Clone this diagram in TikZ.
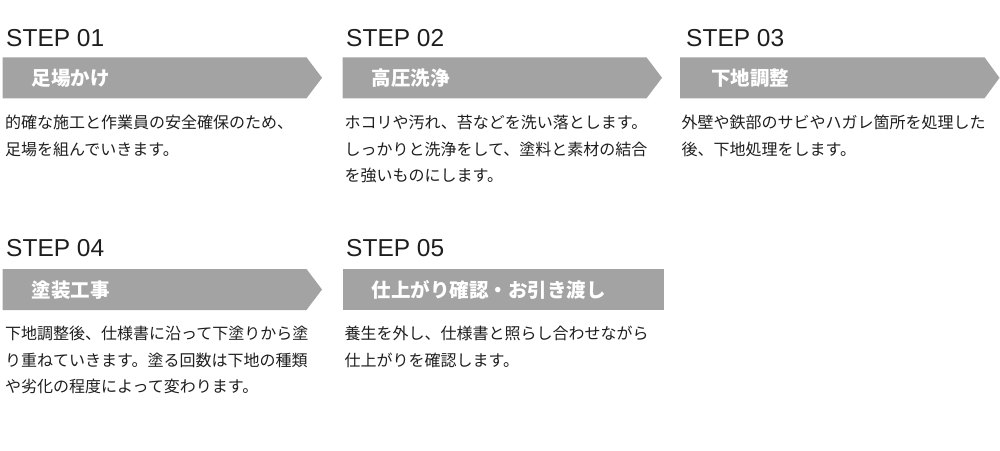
\documentclass[tikz,border=0pt]{standalone}
\usepackage{fontspec}
\setmainfont{Liberation Sans}
\newfontfamily\jp{Noto Sans CJK JP}
\definecolor{bandgray}{RGB}{163,163,163}
\definecolor{txt}{RGB}{30,30,30}
\tikzset{
  band/.style={fill=bandgray, draw=none},
  steptitle/.style={anchor=base west, inner sep=0pt, text=txt, font=\fontsize{24.5}{28}\selectfont},
  bandlabel/.style={anchor=base west, inner sep=0pt, text=white, font=\jp\bfseries\fontsize{19.5}{22}\selectfont},
  bodyline/.style={anchor=base west, inner sep=0pt, text=txt, font=\jp\fontsize{16}{20}\selectfont},
}
\begin{document}
\begin{tikzpicture}[x=1pt,y=-1pt]
\useasboundingbox (0,0) rectangle (1000,450);
% bands
\fill[band] (2.7,57.3) -- (306.5,57.3) -- (322,77.8) -- (306.5,98.3) -- (2.7,98.3) -- cycle;
\fill[band] (342.7,57.3) -- (646.5,57.3) -- (662,77.8) -- (646.5,98.3) -- (342.7,98.3) -- cycle;
\fill[band] (680,57.3) -- (984.5,57.3) -- (999.5,77.8) -- (984.5,98.3) -- (680,98.3) -- cycle;
\fill[band] (2.7,269) -- (306.5,269) -- (322,289.5) -- (306.5,310) -- (2.7,310) -- cycle;
\fill[band] (342.7,269) rectangle (664.3,310);
% step titles
\node[steptitle] (s1) at (6,46.7) {STEP 01};
\node[steptitle] (s2) at (346,46.7) {STEP 02};
\node[steptitle] (s3) at (686,46.7) {STEP 03};
\node[steptitle] (s4) at (6,256.7) {STEP 04};
\node[steptitle] (s5) at (346,256.7) {STEP 05};
% band labels
\node[bandlabel] (l1) at (31.5,85.3) {足場かけ};
\node[bandlabel] (l2) at (371.5,85.3) {高圧洗浄};
\node[bandlabel] (l3) at (711,85.3) {下地調整};
\node[bandlabel] (l4) at (31.5,297.5) {塗装工事};
\node[bandlabel] (l5) at (371.5,297.5) {仕上がり確認・お引き渡し};
% body texts
\node[bodyline] (b11) at (5,128.5) {的確な施工と作業員の安全確保のため、};
\node[bodyline] (b12) at (5,155) {足場を組んでいきます。};
\node[bodyline] (b21) at (344.5,128.5) {ホコリや汚れ、苔などを洗い落とします。};
\node[bodyline] (b22) at (344.5,155) {しっかりと洗浄をして、塗料と素材の結合};
\node[bodyline] (b23) at (344.5,181.5) {を強いものにします。};
\node[bodyline] (b31) at (681.5,128.5) {外壁や鉄部のサビやハガレ箇所を処理した};
\node[bodyline] (b32) at (681.5,155) {後、下地処理をします。};
\node[bodyline] (b41) at (5,339.5) {下地調整後、仕様書に沿って下塗りから塗};
\node[bodyline] (b42) at (5,366) {り重ねていきます。塗る回数は下地の種類};
\node[bodyline] (b43) at (5,392.5) {や劣化の程度によって変わります。};
\node[bodyline] (b51) at (344.5,339.5) {養生を外し、仕様書と照らし合わせながら};
\node[bodyline] (b52) at (344.5,366) {仕上がりを確認します。};
\end{tikzpicture}
\end{document}
